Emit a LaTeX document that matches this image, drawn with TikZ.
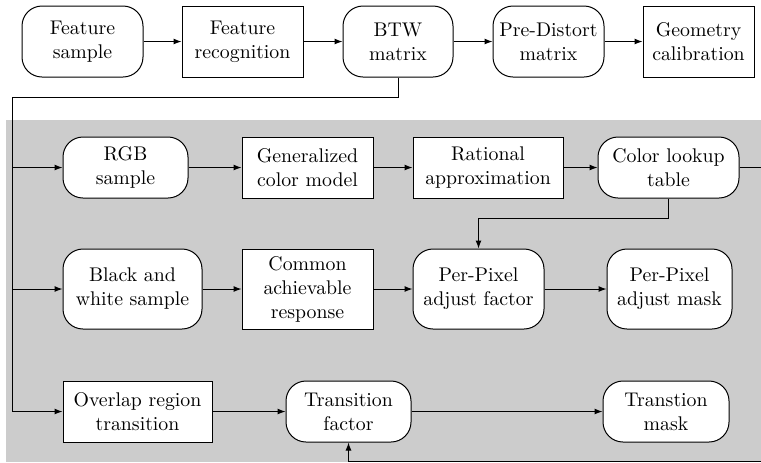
\documentclass[tikz,border=0pt]{standalone}
\usepackage{tikz}
\usetikzlibrary{arrows.meta}

\begin{document}
\begin{tikzpicture}[x=0.5pt, y=-0.5pt,
        box/.style={draw, fill=white, line width=0.5pt, align=center, inner sep=0pt,
            font=\fontsize{9.9}{12}\selectfont},
        rbox/.style={box, rounded corners=10pt},
        arr/.style={line width=0.5pt, -{Latex[length=4pt, width=3pt]}}]
        \useasboundingbox (0, 0) rectangle (761, 462);
        \fill[black!20] (6, 120) rectangle (761, 462);

        \node[rbox, minimum width=60.5pt, minimum height=35.5pt] (fs) at (82.5, 41.5) {Feature\\sample};
        \node[box, minimum width=60.5pt, minimum height=35.5pt] (fr) at (242.5, 41.5) {Feature\\recognition};
        \node[rbox, minimum width=55pt, minimum height=35.5pt] (btw) at (398, 41.5) {BTW\\matrix};
        \node[rbox, minimum width=55.5pt, minimum height=35.5pt] (pdm) at (548.5, 41.5) {Pre-Distort\\matrix};
        \node[box, minimum width=55.5pt, minimum height=35.5pt] (gc) at (698.5, 41.5) {Geometry\\calibration};

        \node[rbox, minimum width=62.5pt, minimum height=30.5pt] (rgb) at (125.5, 167.5) {RGB\\sample};
        \node[box, minimum width=65.5pt, minimum height=30.5pt] (gcm) at (307.5, 167.5) {Generalized\\color model};
        \node[box, minimum width=75pt, minimum height=30.5pt] (ra) at (488, 167.5) {Rational\\approximation};
        \node[rbox, minimum width=70.5pt, minimum height=30.5pt] (clt) at (668.5, 167.5) {Color lookup\\table};

        \node[rbox, minimum width=69.5pt, minimum height=40pt] (bw) at (132.5, 289) {Black and\\white sample};
        \node[box, minimum width=65.5pt, minimum height=40pt] (car) at (307.5, 289) {Common\\achievable\\response};
        \node[rbox, minimum width=65.5pt, minimum height=40pt] (ppf) at (478.5, 289) {Per-Pixel\\adjust factor};
        \node[rbox, minimum width=62.5pt, minimum height=40pt] (ppm) at (669.5, 289) {Per-Pixel\\adjust mask};

        \node[box, minimum width=74.5pt, minimum height=30.5pt] (ort) at (137.5, 411.5) {Overlap region\\transition};
        \node[rbox, minimum width=62.5pt, minimum height=30.5pt] (tf) at (348.5, 411.5) {Transition\\factor};
        \node[rbox, minimum width=63pt, minimum height=30.5pt] (tm) at (666, 411.5) {Transtion\\mask};

        \coordinate (bustop) at (12, 97);
        \coordinate (loop) at (766, 461);

        \draw[arr] (fs) -- (fr);
        \draw[arr] (fr) -- (btw);
        \draw[arr] (btw) -- (pdm);
        \draw[arr] (pdm) -- (gc);

        \draw[line width=0.5pt] (btw.south) |- (bustop) -- (bustop |- ort.west);
        \draw[arr] (bustop |- rgb.west) -- (rgb.west);
        \draw[arr] (bustop |- bw.west) -- (bw.west);
        \draw[arr] (bustop |- ort.west) -- (ort.west);

        \draw[arr] (rgb) -- (gcm);
        \draw[arr] (gcm) -- (ra);
        \draw[arr] (ra) -- (clt);
        \draw[arr] (clt.south) -- ++(0, 20) -| (ppf.north);

        \draw[arr] (bw) -- (car);
        \draw[arr] (car) -- (ppf);
        \draw[arr] (ppf) -- (ppm);

        \draw[arr] (ort) -- (tf);
        \draw[arr] (tf) -- (tm);
        \draw[arr] (clt.east) -| (loop) -| (tf.south);
    \end{tikzpicture}
\end{document}
